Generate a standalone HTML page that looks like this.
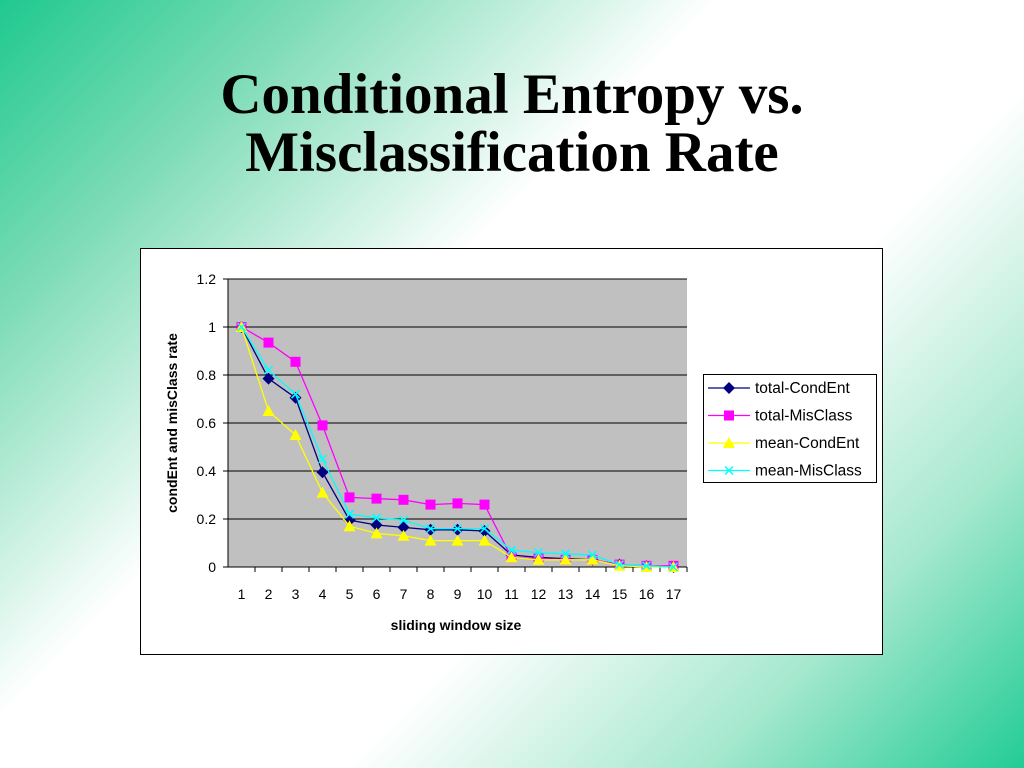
<!DOCTYPE html>
<html><head><meta charset="utf-8"><style>
html,body{margin:0;padding:0}
body{width:1024px;height:768px;overflow:hidden;position:relative;
background:linear-gradient(135deg,#1fc98f 0%,#7fdcb8 18%,#ffffff 40%,#ffffff 62%,#a6e8cf 82%,#22cc95 100%);
font-family:"Liberation Sans",sans-serif}
h1{position:absolute;top:66px;left:0;width:1024px;margin:0;text-align:center;font-family:"Liberation Serif",serif;font-weight:bold;font-size:57px;line-height:58px;color:#000}
</style></head><body>
<h1>Conditional Entropy vs.<br>Misclassification Rate</h1>
<svg id="chart" width="1024" height="768" style="position:absolute;left:0;top:0">
<rect x="140.5" y="248.5" width="742" height="406" fill="#fff" stroke="#000"/>
<rect x="228" y="279" width="459" height="288" fill="#c0c0c0"/>
<g id="grid"></g><g id="series"></g>
<text x="456" y="630" text-anchor="middle" font-size="14" font-weight="bold">sliding window size</text>
<text transform="translate(177,423) rotate(-90)" text-anchor="middle" font-size="14" font-weight="bold">condEnt and misClass rate</text>
<rect x="703.5" y="374.5" width="173" height="108" fill="#fff" stroke="#000"/>
<g id="legend"></g>
</svg>
<script>
const categories=[1,2,3,4,5,6,7,8,9,10,11,12,13,14,15,16,17];
const yTicks=[0,0.2,0.4,0.6,0.8,1,1.2];
const totalCondEnt=[1,0.785,0.705,0.395,0.195,0.175,0.165,0.155,0.155,0.15,0.05,0.04,0.035,0.03,0.01,0.003,0];
const totalMisClass=[1,0.935,0.855,0.59,0.29,0.285,0.28,0.26,0.265,0.26,0.04,0.035,0.03,0.03,0.01,0.005,0.005];
const meanCondEnt=[1,0.65,0.55,0.31,0.17,0.14,0.13,0.11,0.11,0.11,0.04,0.03,0.03,0.03,0.005,0,0];
const meanMisClass=[1,0.82,0.72,0.45,0.22,0.205,0.195,0.16,0.16,0.16,0.07,0.06,0.055,0.05,0.01,0.005,0];
const seriesNames=["total-CondEnt","total-MisClass","mean-CondEnt","mean-MisClass"];
const NS="http://www.w3.org/2000/svg";
const X0=228,W=459,Y0=567,H=288,YMAX=1.2;
const xs=i=>X0+(i+0.5)*W/categories.length;
const ys=v=>Y0-v/YMAX*H;
function mk(tag,attrs,parent){const e=document.createElementNS(NS,tag);for(const k in attrs)e.setAttribute(k,attrs[k]);parent.appendChild(e);return e;}
const grid=document.getElementById('grid');
yTicks.forEach(t=>{
  const y=ys(t);
  if(t>0){const l=mk('line',{x1:X0,x2:X0+W,y1:y,y2:y,stroke:'#000'},grid);
  
  }
  mk('line',{x1:X0-5,x2:X0,y1:y,y2:y,stroke:'#000'},grid);
  const tx=mk('text',{x:X0-12,y:y+5,'text-anchor':'end','font-size':14},grid);tx.textContent=t;
  
  
});
mk('line',{x1:X0,x2:X0,y1:279,y2:Y0,stroke:'#000'},grid);
mk('line',{x1:X0,x2:X0+W,y1:Y0,y2:Y0,stroke:'#000'},grid);
categories.forEach((c,i)=>{
  const xb=X0+(i+1)*W/categories.length;
  mk('line',{x1:xb,x2:xb,y1:Y0,y2:Y0+5,stroke:'#000'},grid);
  const tx=mk('text',{x:xs(i),y:599,'text-anchor':'middle','font-size':14},grid);tx.textContent=c;
  
  
});
const colors=['#000080','#ff00ff','#ffff00','#00ffff'];
const data=[totalCondEnt,totalMisClass,meanCondEnt,meanMisClass];
function marker(k,x,y,g){
  if(k===0)return mk('polygon',{points:`${x},${y-6} ${x+6},${y} ${x},${y+6} ${x-6},${y}`,fill:colors[0]},g);
  if(k===1)return mk('rect',{x:x-5,y:y-5,width:10,height:10,fill:colors[1]},g);
  if(k===2)return mk('polygon',{points:`${x},${y-6} ${x+6},${y+5} ${x-6},${y+5}`,fill:colors[2]},g);
  return mk('path',{d:`M${x-4},${y-4}L${x+4},${y+4}M${x+4},${y-4}L${x-4},${y+4}`,stroke:colors[3],'stroke-width':1.5},g);
}
const sg=document.getElementById('series');
data.forEach((arr,k)=>{
  const g=mk('g',{},sg);
  
  
  mk('polyline',{points:arr.map((v,i)=>xs(i)+','+ys(v)).join(' '),fill:'none',stroke:colors[k],'stroke-width':1.3},g);
  arr.forEach((v,i)=>{const m=marker(k,xs(i),ys(v),g);
    
    });
});
const lg=document.getElementById('legend');
seriesNames.forEach((n,k)=>{
  const y=388+k*27.5;
  const g=mk('g',{},lg);
  
  
  mk('line',{x1:708,x2:750,y1:y,y2:y,stroke:colors[k],'stroke-width':1.3},g);
  marker(k,729,y,g);
  const t=mk('text',{x:755,y:y+5,'font-size':15.5},g);t.textContent=n;
});
</script>
</body></html>
